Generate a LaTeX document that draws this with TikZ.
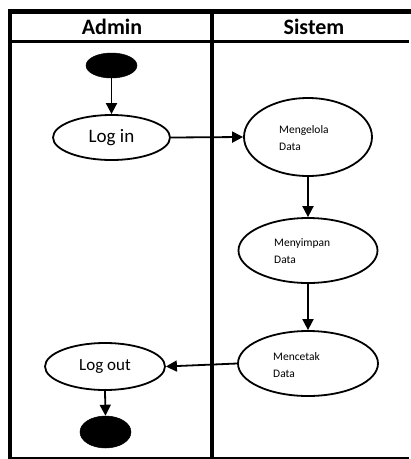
\documentclass[tikz,border=0pt]{standalone}
\usepackage{fontspec}
\setmainfont{Carlito}
\usetikzlibrary{shapes.geometric,arrows.meta}
\tikzset{
  act/.style={ellipse, draw=black, line width=1.8pt, fill=white, inner sep=0pt},
  blob/.style={ellipse, fill=black, draw=black, line width=0.5pt, inner sep=0pt},
  flow/.style={line width=1.8pt, -{Triangle[width=11pt,length=11pt]}},
  small/.style={anchor=west, align=left, inner sep=0pt, font=\fontsize{11.5}{16.5}\selectfont},
  head/.style={font=\fontsize{22}{26}\selectfont\bfseries, inner sep=0pt},
  frame/.style={draw=black}
}
\begin{document}
\begin{tikzpicture}[x=1pt,y=-1pt]
\useasboundingbox (0,0) rectangle (411,459);
\fill[white] (0,0) rectangle (411,459);
% frame
\draw[frame, line width=5pt] (8,11.5) -- (411,11.5);
\draw[frame, line width=4pt] (10,9) -- (10,459);
\draw[frame, line width=3pt] (10,41.5) -- (409,41.5);
\draw[frame, line width=4pt] (212,9) -- (212,458);
\draw[frame, line width=1.5pt] (10,457.8) -- (409,457.8);
% headers
\node[head] (hadmin) at (112,27) {Admin};
\node[head] (hsistem) at (314,27) {Sistem};
% nodes
\node[blob, minimum width=51pt, minimum height=25pt] (start) at (111.5,65.5) {};
\node[act, minimum width=117pt, minimum height=45pt, font=\fontsize{19}{22}\selectfont] (login) at (111.5,137.5) {Log in};
\node[act, minimum width=128pt, minimum height=78pt] (m1) at (308,137) {};
\node[small] (m1t) at (279,138) {Mengelola\\Data};
\node[act, minimum width=139pt, minimum height=65pt] (m2) at (308,250.5) {};
\node[small] (m2t) at (274,251) {Menyimpan\\Data};
\node[act, minimum width=140pt, minimum height=65pt] (m3) at (308,363.5) {};
\node[small] (m3t) at (273,365) {Mencetak\\Data};
\node[act, minimum width=120pt, minimum height=47pt, font=\fontsize{17}{20}\selectfont] (logout) at (105,366.5) {Log out};
\node[blob, minimum width=51pt, minimum height=32pt] (end) at (105.5,432) {};
% connectors
\draw[flow] (start.south) -- (login.north);
\draw[flow] (login.east) -- (m1.west);
\draw[flow] (m1.south) -- (m2.north);
\draw[flow] (m2.south) -- (m3.north);
\draw[flow] (m3.west) -- (logout.east);
\draw[flow] (logout.south) -- (end.north);
\end{tikzpicture}
\end{document}
